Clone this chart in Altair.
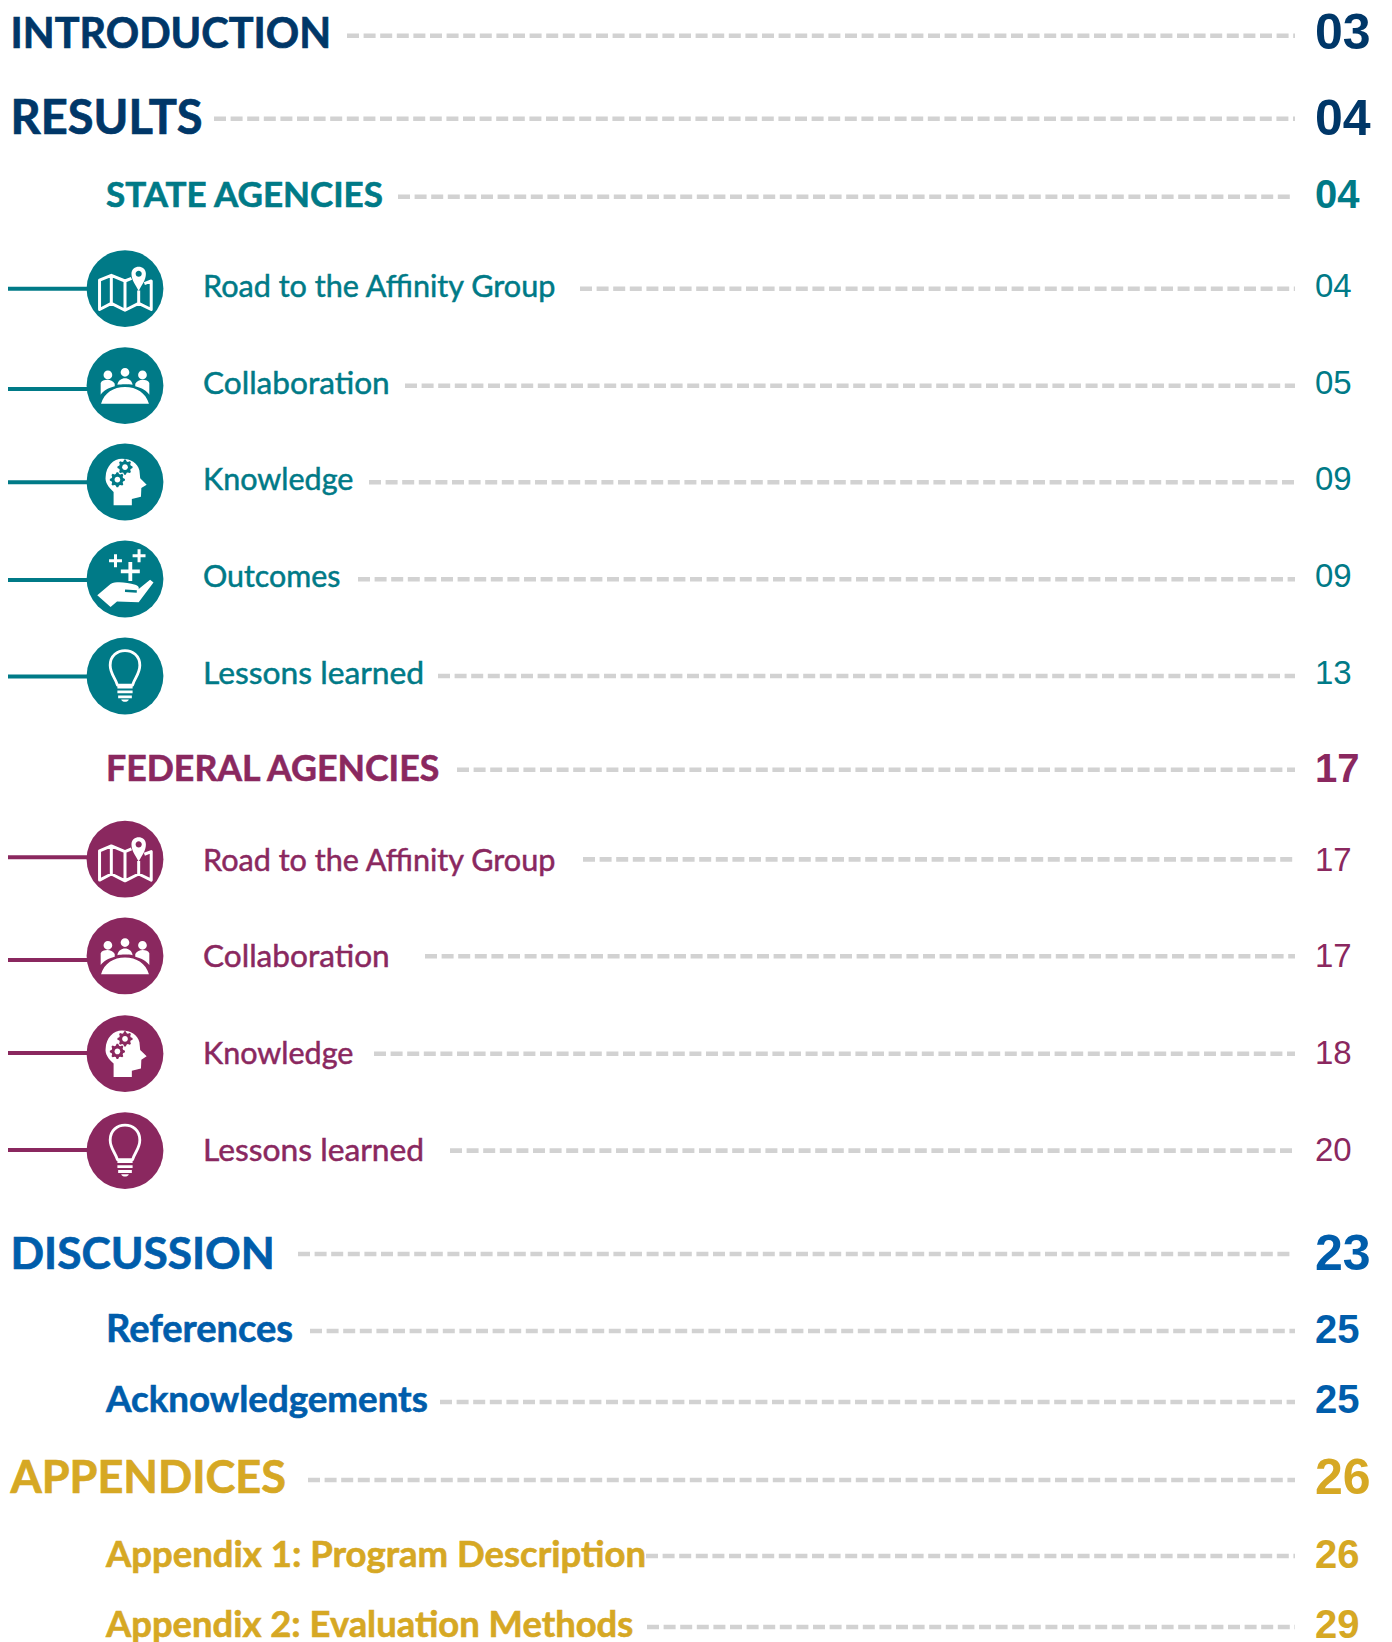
import math
import altair as alt
import pandas as pd

NAVY, TEAL, PURPLE, BLUE, GOLD = "#003768", "#007a87", "#8a285f", "#005dab", "#d6a824"
DASH = "#d2d2d2"

labels = ["INTRODUCTION", "RESULTS", "STATE AGENCIES", "Road to the Affinity Group", "Collaboration",
          "Knowledge", "Outcomes", "Lessons learned", "FEDERAL AGENCIES", "Road to the Affinity Group",
          "Collaboration", "Knowledge", "Lessons learned", "DISCUSSION", "References", "Acknowledgements",
          "APPENDICES", "Appendix 1: Program Description", "Appendix 2: Evaluation Methods"]
pages = ["03", "04", "04", "04", "05", "09", "09", "13", "17", "17", "17", "18", "20", "23", "25", "25", "26", "26", "29"]
levels = [0, 0, 1, 2, 2, 2, 2, 2, 1, 2, 2, 2, 2, 0, 1, 1, 0, 1, 1]
colors = [NAVY, NAVY, TEAL, TEAL, TEAL, TEAL, TEAL, TEAL, PURPLE, PURPLE, PURPLE, PURPLE, PURPLE,
          BLUE, BLUE, BLUE, GOLD, GOLD, GOLD]
label_sizes = [41.4, 47, 35, 30.6, 31.6, 30.5, 30.4, 31.8, 35.7, 30.6, 31.6, 30.5, 31.8, 44.2, 38, 36.7, 45, 36.5, 36.4]
baselines = [48, 134, 206.5, 297, 394, 490, 587, 683.5, 781, 870.5, 967, 1064, 1160.5,
             1269, 1341.5, 1411.5, 1492.5, 1566.5, 1636.5]
page_baselines = [49, 135, 207.5, 297, 394, 490, 587, 683.5, 782, 870.5, 967, 1064, 1160.5,
                  1270, 1342.5, 1412.5, 1493.5, 1567.5, 1638]
leader_y = [35.7, 118.7, 196.7, 288.7, 385.7, 482.3, 579.2, 676, 769.8, 859.4, 956.3, 1053.7, 1150.6,
            1254, 1331, 1402, 1480, 1556, 1627]
leader_x0 = [347, 214, 398, 580, 405, 369, 358, 438, 457, 583, 425, 374, 450, 298, 310, 440, 308, 646, 647]
leader_x1 = [1295, 1295, 1292, 1295, 1295, 1295, 1295, 1295, 1295, 1294, 1295, 1295, 1295, 1292, 1295, 1295, 1295, 1295, 1295]

label_x_by_level = [10.5, 106, 203]
font_label = "Lato"
font_page = "Liberation Sans"
label_weight = ["bold", "bold", "normal"]
label_stroke = [0.7, 0.6, 0.5]
page_size = [50, 40, 33]
page_weight = ["bold", "bold", "normal"]

icon_kinds = ["map", "team", "head", "hand", "bulb", "map", "team", "head", "bulb"]
icon_y = [288.6, 385.6, 482, 579, 676, 859.2, 955.9, 1053.7, 1150.6]
link_y = [288.7, 389, 482.3, 580, 676.6, 857.3, 960, 1053, 1150]
icon_colors = [TEAL] * 5 + [PURPLE] * 4
CIRCLE_X = 125
LINK_X0, LINK_X1 = 0, 90

rows = pd.DataFrame({
    "label": labels, "page": pages, "level": levels, "color": colors, "base": baselines, "pbase": page_baselines,
    "ly": leader_y, "lx0": leader_x0, "lx1": leader_x1, "fs": label_sizes,
})
rows["tx"] = [label_x_by_level[l] for l in levels]
rows["px"] = 1315
icons = pd.DataFrame({"kind": icon_kinds, "y": icon_y, "ly": link_y, "color": icon_colors})
icons["x"] = CIRCLE_X
icons["x0"] = LINK_X0
icons["x1"] = LINK_X1

X = alt.X("x:Q", axis=None, scale=alt.Scale(domain=[8, 1384], nice=False, zero=False))
Y = alt.Y("y:Q", axis=None, scale=alt.Scale(domain=[1642, 8], nice=False, zero=False))
INK = alt.Color("color:N", scale=None)
INK_STROKE = alt.Stroke("color:N", scale=None)


def circ(cx, cy, r):
    return f"M{cx - r} {cy}A{r} {r} 0 1 1 {cx + r} {cy}A{r} {r} 0 1 1 {cx - r} {cy}Z"


def gear(cx, cy, r, teeth=8):
    pts = []
    n = teeth * 4
    for i in range(n):
        rr = r if i % 4 in (0, 1) else r * 0.78
        a = 2 * math.pi * (i - 0.5) / n
        pts.append(f"{cx + rr * math.cos(a):.3f} {cy + rr * math.sin(a):.3f}")
    return "M" + "L".join(pts) + "Z"


def glyph(kind, path, filled=True, sw=2.5, ink=None):
    d = icons[icons.kind == kind]
    color = alt.value(ink) if ink else INK
    mark = alt.Chart(d).mark_point(shape=path, size=5776, filled=filled, opacity=1,
                                   strokeWidth=0 if filled else sw,
                                   strokeJoin="round", strokeCap="butt")
    return mark.encode(x=X, y=Y, color=color)


W = "#ffffff"

MAP_OUT = ("M.17 -.27L0 -.2L-.36 -.35L-.67 -.22L-.67 .55L-.36 .39L0 .57L.36 .39L.69 .55L.69 -.2L.51 -.13"
           "M-.36 -.35L-.36 .39M0 -.2L0 .57M.36 .05L.36 .39")
MAP_PIN = "M.36 .06C.28 -.1 .17 -.22 .17 -.39C.17 -.64 .55 -.64 .55 -.39C.55 -.22 .44 -.1 .36 .06Z"

TEAM = ("M-.63 .48C-.55 .2 -.3 .04 0 .04C.3 .04 .55 .2 .63 .48Z"
        "M-.64 .24L-.64 -.07C-.6 -.17 -.35 -.2 -.27 -.05L-.27 .02C-.45 .07 -.55 .12 -.64 .24Z"
        "M.64 .24L.64 -.07C.6 -.17 .35 -.2 .27 -.05L.27 .02C.45 .07 .55 .12 .64 .24Z"
        "M-.2 -.02C-.17 -.25 .17 -.25 .2 -.02C.1 -.04 -.1 -.04 -.2 -.02Z"
        + circ(-.45, -.28, .115) + circ(0, -.35, .115) + circ(.46, -.28, .115))

HEAD = ("M-.3 .61L-.3 .26C-.44 .14 -.53 .0 -.51 -.13C-.5 -.42 -.3 -.61 -.08 -.61C.15 -.61 .33 -.5 .38 -.3"
        "L.4 -.1L.57 .07L.43 .16L.42 .39L.18 .45L.18 .61Z")

HAND = ("M-.73 .43L-.38 .13C-.2 .05 .05 .1 .27 .15C.34 .17 .38 .22 .36 .26"
        "L.66 .02L.75 .09L.36 .61L-.21 .59L-.38 .74Z")
HAND_SLIT = "M0 .31L.31 .33"
PLUS_SMALL = "M-.42 -.48L-.08 -.48M-.25 -.65L-.25 -.31M.2 -.61L.54 -.61M.37 -.78L.37 -.44"
PLUS_BIG = "M-.11 -.2L.39 -.2M.14 -.45L.14 .05"

BULB = "M-.2 .24C-.25 .05 -.39 -.05 -.39 -.28C-.39 -.8 .39 -.8 .39 -.28C.39 -.05 .25 .05 .2 .24Z"
BULB_BASE = "M-.2 .29L.2 .29M-.2 .42L.2 .42M-.18 .55L.18 .55"
BULB_TIP = "M-.1 .62L.1 .62C.08 .7 -.08 .7 -.1 .62Z"

layers = []

layers.append(alt.Chart(rows.rename(columns={"lx0": "x", "ly": "y"})).mark_rule(
    strokeWidth=4.6, strokeDash=[12, 4.6], color=DASH).encode(x=X, x2="lx1:Q", y=Y))
layers.append(alt.Chart(icons.rename(columns={"x": "cx", "y": "cy", "x0": "x", "ly": "y"})).mark_rule(
    strokeWidth=4).encode(x=X, x2="x1:Q", y=Y, color=INK))
layers.append(alt.Chart(icons).mark_point(shape="circle", size=5900, filled=True, opacity=1).encode(x=X, y=Y, color=INK))

layers += [
    glyph("map", MAP_OUT, filled=False, sw=3, ink=W),
    glyph("map", MAP_PIN, ink=W),
    glyph("map", circ(.36, -.39, .08)),
    glyph("team", TEAM, ink=W),
    glyph("head", HEAD, ink=W),
    glyph("head", gear(0, -.39, .2)),
    glyph("head", gear(-.2, -.06, .2)),
    glyph("head", circ(0, -.39, .075), ink=W),
    glyph("head", circ(-.2, -.06, .075), ink=W),
    glyph("hand", HAND, ink=W),
    glyph("hand", HAND_SLIT, filled=False, sw=2.4),
    glyph("hand", PLUS_SMALL, filled=False, sw=3, ink=W),
    glyph("hand", PLUS_BIG, filled=False, sw=3.8, ink=W),
    glyph("bulb", BULB, filled=False, sw=2.8, ink=W),
    glyph("bulb", BULB_BASE, filled=False, sw=2.8, ink=W),
    glyph("bulb", BULB_TIP, ink=W),
]

for lvl in (0, 1, 2):
    sub = rows[rows.level == lvl]
    layers.append(alt.Chart(sub.rename(columns={"tx": "x", "base": "y"})).mark_text(
        align="left", baseline="alphabetic", font=font_label, strokeWidth=label_stroke[lvl],
        fontWeight=label_weight[lvl]).encode(x=X, y=Y, text="label:N", color=INK, stroke=INK_STROKE,
                                             size=alt.Size("fs:Q", scale=None)))
    layers.append(alt.Chart(sub.rename(columns={"px": "x", "pbase": "y"})).mark_text(
        align="left", baseline="alphabetic", font=font_page, fontSize=page_size[lvl],
        fontWeight=page_weight[lvl]).encode(x=X, y=Y, text="page:N", color=INK))

chart = alt.layer(*layers).properties(
    width=1376, height=1634, padding=0, autosize=alt.AutoSizeParams(type="none"), background="#ffffff"
).configure_view(stroke=None)

chart.save("out.html", embed_options={"renderer": "svg", "actions": False})
